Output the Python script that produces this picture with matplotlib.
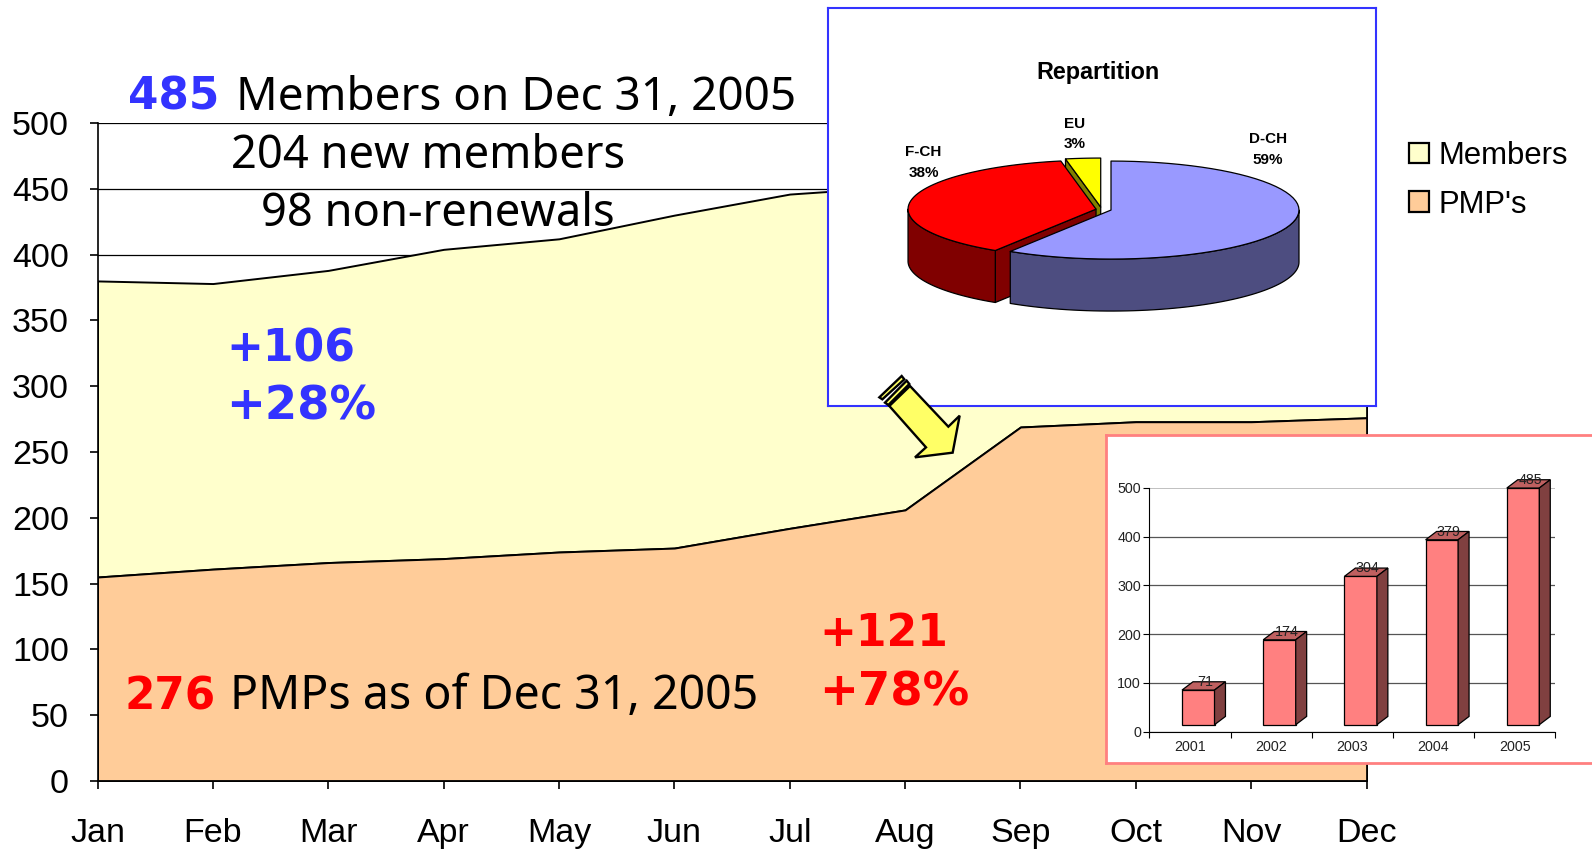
import numpy as np
import matplotlib
matplotlib.use("Agg")
import matplotlib.pyplot as plt
from matplotlib.patches import Patch, Polygon

plt.rcParams['font.family'] = ['Liberation Sans', 'DejaVu Sans']

# ---------- data ----------
months = ['Jan', 'Feb', 'Mar', 'Apr', 'May', 'Jun', 'Jul', 'Aug', 'Sep', 'Oct', 'Nov', 'Dec']
members = [380, 378, 388, 404, 412, 430, 446, 452, 458, 465, 475, 485]
pmps = [155, 161, 166, 169, 174, 177, 192, 206, 269, 273, 273, 276]
pie_labels = ['D-CH', 'F-CH', 'EU']
pie_shares = [59, 38, 3]
years = ['2001', '2002', '2003', '2004', '2005']
year_totals = [71, 174, 304, 379, 485]

W, H = 1592, 850
fig = plt.figure(figsize=(W / 100, H / 100), dpi=100, facecolor='white')


def axes_px(left, top, right, bottom, **kw):
    return fig.add_axes([left / W, 1 - bottom / H, (right - left) / W, (bottom - top) / H], **kw)


def text_px(x, y, s, **kw):
    return fig.text(x / W, 1 - y / H, s, **kw)


# ---------- main area chart ----------
ax = axes_px(97.5, 123, 1366.6, 781, zorder=1)
xs = np.arange(len(months))
ax.fill_between(xs, pmps, members, facecolor='#FFFFCC', edgecolor='black', linewidth=1.4, zorder=2)
ax.fill_between(xs, 0, pmps, facecolor='#FFCC99', edgecolor='black', linewidth=1.4, zorder=3)
ax.set_xlim(0, 11)
ax.set_ylim(0, 500)
ax.set_xticks(xs, months)
ax.set_yticks(np.arange(0, 501, 50))
ax.yaxis.grid(True, color='black', linewidth=0.9)
ax.set_axisbelow(True)
for side in ('top', 'right'):
    ax.spines[side].set_visible(False)
for side in ('left', 'bottom'):
    ax.spines[side].set_linewidth(1.2)
    ax.spines[side].set_zorder(5)
ax.tick_params(axis='x', labelsize=24.5, length=6, width=1.2, pad=20.5)
ax.tick_params(axis='y', labelsize=24.5, length=6, width=1.2, pad=14.5)

leg = fig.legend(
    handles=[Patch(facecolor='#FFFFCC', edgecolor='black', linewidth=1.6, label='Members'),
             Patch(facecolor='#FFCC99', edgecolor='black', linewidth=1.6, label="PMP's")],
    loc='upper left', bbox_to_anchor=(1409 / W, 1 - 141 / H), frameon=False, fontsize=22.4,
    handlelength=0.64, handleheight=0.64, handletextpad=0.32, labelspacing=0.6,
    borderpad=0, borderaxespad=0)

# ---------- headline text ----------
HEAD = 'Noto Sans'
BOLD = 'DejaVu Sans'
BS = 31.5
PS = 33.5
text_px(128, 110, '485', color='#3333FF', fontsize=BS, fontweight='bold', family=BOLD, zorder=10)
text_px(236, 110, 'Members on Dec 31, 2005', color='black', fontsize=33, family=HEAD)
text_px(231, 168, '204 new members', color='black', fontsize=32.6, family=HEAD)
text_px(261, 226, '98 non-renewals', color='black', fontsize=32.6, family=HEAD)
text_px(226, 361, '+106', color='#3333FF', fontsize=BS + 0.3, fontweight='bold', family=BOLD)
text_px(226, 420, '+28%', color='#3333FF', fontsize=PS, fontweight='bold', family=BOLD)
text_px(819, 646, '+121', color='#FF0000', fontsize=BS + 0.3, fontweight='bold', family=BOLD)
text_px(819, 706, '+78%', color='#FF0000', fontsize=PS, fontweight='bold', family=BOLD)
text_px(124, 709, '276', color='#FF0000', fontsize=BS, fontweight='bold', family=BOLD)
text_px(230, 709, 'PMPs as of Dec 31, 2005', color='black', fontsize=33.5, family=HEAD)

# ---------- pie panel ----------
pie_ax = axes_px(827.5, 8, 1376, 406, zorder=2, facecolor='white')
pie_ax.set_xlim(827.5, 1376)
pie_ax.set_ylim(406, 8)
pie_ax.set_xticks([])
pie_ax.set_yticks([])
for s in pie_ax.spines.values():
    s.set_color('#3333FF')
    s.set_linewidth(1.5)

CX, CY, RX, RY, DEPTH = 1103.6, 209.5, 188.0, 49.0, 52.0
EXPLODE = [0.041, 0.041, 0.05]
fracs = np.array(pie_shares, dtype=float) / sum(pie_shares)
ends = np.cumsum(fracs) * 2 * np.pi
starts = ends - fracs * 2 * np.pi
mids = (starts + ends) / 2
centers = [(CX + e * RX * np.sin(m), CY - e * RY * np.cos(m)) for e, m in zip(EXPLODE, mids)]
centers[2] = (centers[2][0] - 2, centers[2][1])


def rim(c, a0, a1, drop=0.0, n=60):
    t = np.linspace(a0, a1, n)
    return np.column_stack([c[0] + RX * np.sin(t), c[1] - RY * np.cos(t) + drop])


def poly(points, color):
    pie_ax.add_patch(Polygon(points, closed=True, facecolor=color, edgecolor='black',
                             linewidth=0.9, joinstyle='round'))


def radial_face(c, a, color):
    p = rim(c, a, a, n=1)[0]
    poly([c, p, (p[0], p[1] + DEPTH), (c[0], c[1] + DEPTH)], color)


def rim_side(c, a0, a1, color):
    poly(np.vstack([rim(c, a0, a1), rim(c, a1, a0, DEPTH)]), color)


def top(c, a0, a1, color):
    poly(np.vstack([[c], rim(c, a0, a1)]), color)


# EU, then F-CH, then D-CH: painter's order from back to front
radial_face(centers[2], starts[2], '#808000')
top(centers[2], starts[2], ends[2], '#FFFF00')
radial_face(centers[1], starts[1], '#800000')
rim_side(centers[1], starts[1], 1.5 * np.pi, '#800000')
top(centers[1], starts[1], ends[1], '#FF0000')
rim_side(centers[0], 0.5 * np.pi, ends[0], '#4D4D80')
top(centers[0], starts[0], ends[0], '#9999FF')

pie_ax.text(1098, 72, 'Repartition', ha='center', va='center', fontsize=16.8, fontweight='bold')
label_pos = [(1268, 149.5), (923.5, 162.5), (1075, 134)]
for name, share, (lx, ly) in zip(pie_labels, pie_shares, label_pos):
    pie_ax.text(lx, ly, f'{name}\n{share}%', ha='center', va='center', fontsize=11,
                fontweight='bold', linespacing=1.55)

# ---------- bar panel ----------
panel = axes_px(1106, 434.7, W + 5, 763, zorder=3, facecolor='white')
panel.set_xticks([])
panel.set_yticks([])
for s in panel.spines.values():
    s.set_color('#FF8080')
    s.set_linewidth(2)

bar = axes_px(1149.3, 487.7, 1555.3, 731.7, zorder=4)
bar.patch.set_alpha(0)
bar.set_xlim(0, len(years))
bar.set_ylim(0, 500)
FLOOR, BAR_W, BAR_SHIFT, DX, DY = 14.3, 0.40, 0.103, 0.135, 17.0
left = np.arange(len(years)) + 0.5 + BAR_SHIFT - BAR_W / 2
tops = np.array(year_totals) + FLOOR
bar.bar(left, year_totals, width=BAR_W, bottom=FLOOR, align='edge', color='#FF8080',
        edgecolor='black', linewidth=0.9, zorder=3, clip_on=False)
for l, t, total in zip(left, tops, year_totals):
    r = l + BAR_W
    bar.fill([l, r, r + DX, l + DX], [t, t, t + DY, t + DY], facecolor='#BF6060',
             edgecolor='black', linewidth=0.9, zorder=3, clip_on=False)
    bar.fill([r, r + DX, r + DX, r], [FLOOR, FLOOR + DY, t + DY, t], facecolor='#804040',
             edgecolor='black', linewidth=0.9, zorder=3, clip_on=False)
    bar.annotate(str(total), (l + BAR_W / 2, t), xytext=(7, 1), textcoords='offset pixels',
                 ha='center', va='bottom', fontsize=10.3, color='#222222', zorder=6,
                 annotation_clip=False)

bar.set_xticks(np.arange(len(years) + 1))
bar.set_xticklabels([])
bar.set_xticks(np.arange(len(years)) + 0.5, years, minor=True)
bar.set_yticks(np.arange(0, 501, 100))
bar.yaxis.grid(True, color='#555555', linewidth=0.9, zorder=1)
bar.get_ygridlines()[-1].set_color('#BBBBBB')
bar.get_ygridlines()[-1].set_linewidth(1.3)
bar.set_axisbelow(True)
for side in ('top', 'right'):
    bar.spines[side].set_visible(False)
bar.tick_params(axis='x', which='major', length=4, width=0.8)
bar.tick_params(axis='x', which='minor', length=0, labelsize=10.3, pad=6, labelcolor='#222222')
bar.tick_params(axis='y', length=4, width=0.8, labelsize=10.3, pad=2, labelcolor='#222222')

# ---------- callout arrow ----------
over = axes_px(0, 0, W, H, zorder=5)
over.patch.set_alpha(0)
over.set_xlim(0, W)
over.set_ylim(H, 0)
over.axis('off')


def zoomed(points):
    return [(860 + x / 3, 360 + y / 3) for x, y in points]


for pts, col in [([(58, 112), (125, 48), (133, 58), (67, 118)], '#FFFF66'),
                 ([(75, 128), (140, 62), (148, 72), (85, 135)], '#FFFF66'),
                 ([(88, 138), (150, 78), (265, 200), (299, 167), (278, 278), (165, 292), (198, 262)], '#FFFF66')]:
    over.add_patch(Polygon(zoomed(pts), closed=True, facecolor=col, edgecolor='black',
                           linewidth=1.7, joinstyle='miter'))

fig.savefig('out.png', dpi=100)
